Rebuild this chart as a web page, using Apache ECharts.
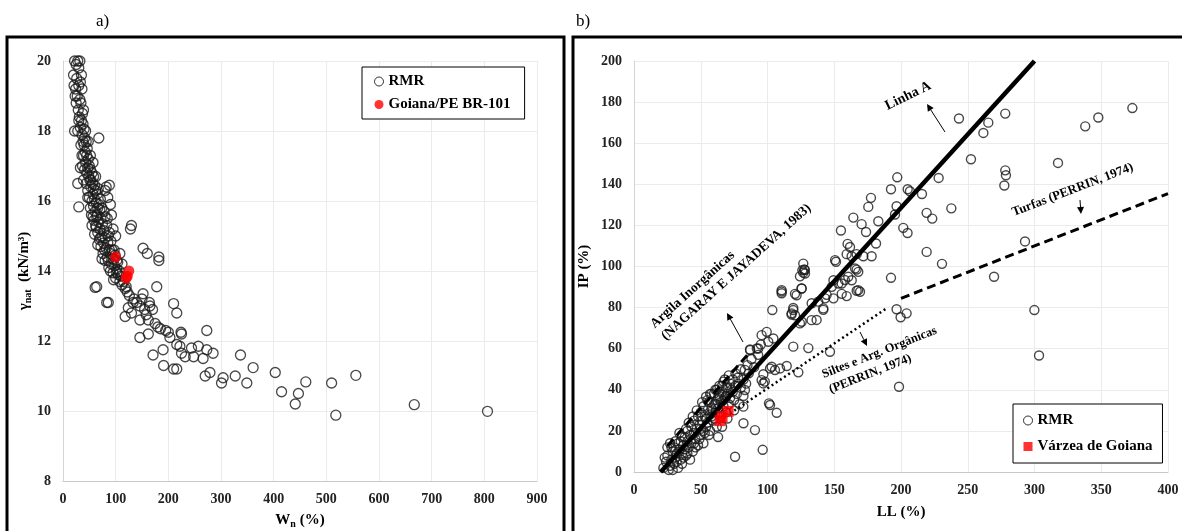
<!DOCTYPE html>
<html>
<head>
<meta charset="utf-8">
<script src="https://cdn.jsdelivr.net/npm/echarts@6/dist/echarts.min.js"></script>
<style>
  html, body { margin: 0; padding: 0; background: #fff; }
  #chart { width: 1182px; height: 531px; }
</style>
</head>
<body>
<div id="chart"></div>
<script>
// a) peso especifico natural x umidade natural
var rmrA = [
  [22,20],[28,20],[32,20],[25,19.9],[30,19.8],[20,19.6],[26,19.5],[33,19.4],[21,19.3],[24,19.2],
  [30,19.3],[36,19.2],[27,19.0],[32,18.9],[25,18.8],[34,18.8],[29,18.6],[37,18.5],[31,18.4],[35,18.3],
  [38,18.2],[33,18.1],[22,18.0],[28,18.0],[40,18.05],[36,17.9],[41,17.8],[38,17.7],[44,17.7],[40,17.6],
  [46,17.5],[42,17.4],[39,17.3],[45,17.3],[48,17.2],[43,17.1],[50,17.0],[37,17.0],[47,16.95],[52,16.9],
  [33,16.95],[45,16.8],[55,16.8],[49,16.7],[58,16.7],[51,16.6],[44,16.5],[56,16.5],[28,16.5],[60,16.45],
  [53,16.4],[47,16.3],[62,16.3],[57,16.2],[65,16.2],[50,16.1],[60,16.05],[55,16.0],[63,15.95],[68,15.9],
  [58,15.85],[30,15.83],[66,15.8],[61,15.7],[70,15.75],[54,15.6],[64,15.55],[72,15.5],[59,15.45],[68,15.4],
  [75,15.35],[62,15.3],[55,15.3],[70,15.2],[78,15.15],[66,15.1],[60,15.05],[74,15.0],[80,14.95],[69,14.9],
  [77,14.8],[85,14.8],[72,14.7],[82,14.65],[88,14.6],[76,14.5],[90,14.5],[84,14.4],[95,14.35],[80,14.3],
  [92,14.2],[98,14.15],[87,14.1],[102,14.05],[95,13.95],[105,13.9],[110,13.85],[100,13.8],[115,13.7],
  [82,16.4],[88,16.45],[80,16.3],[85,16.1],[90,15.9],[78,15.7],[92,15.6],[84,15.5],[95,15.2],[100,15.0],
  [86,15.0],[97,14.6],[108,14.5],[102,14.3],[112,14.2],[107,14.0],
  [35,19.6],[23,19.0],[39,18.6],[30,18.3],[43,18.0],[34,17.6],[48,17.7],[36,17.3],[52,17.3],[41,16.9],
  [57,17.1],[39,16.6],[53,16.6],[62,16.7],[47,16.1],[58,16.35],[67,16.35],[52,15.8],[71,16.05],[57,15.55],
  [74,15.8],[65,15.6],[80,15.55],[63,15.25],[83,15.3],[71,14.95],[88,15.1],[66,14.75],[91,14.85],[79,14.6],
  [93,14.6],[74,14.35],[99,14.45],[86,14.3],[104,14.25],[90,14.0],[96,13.75],[108,13.7],[112,13.6],[120,13.55],
  [68,17.8],[61,13.53],[83,13.1],[130,15.3],[128,15.2],[152,14.65],[160,14.5],[182,14.4],[182,14.3],
  [64,13.55],[86,13.1],[102,13.95],[118,13.5],[122,13.4],[126,13.3],[118,12.7],[130,12.8],[124,12.95],
  [135,13.2],[140,13.1],[146,13.0],[150,13.2],[146,12.6],[155,12.9],[158,12.75],[162,12.6],[146,12.1],
  [162,12.2],[170,12.9],[165,13.0],[178,13.55],[171,11.6],[175,12.5],[180,12.4],[185,12.35],[190,11.75],
  [191,11.3],[195,12.3],[200,12.25],[203,12.1],[210,13.07],[216,12.8],[225,12.2],[224,12.25],[216,11.9],
  [222,11.85],[225,11.65],[232,11.55],[210,11.2],[216,11.2],[244,11.8],[257,11.85],[248,11.55],[266,11.5],
  [273,12.3],[273,11.75],[285,11.65],[270,11.0],[279,11.1],[301,10.8],[304,10.95],[327,11.0],[337,11.6],
  [349,10.8],[361,11.24],[403,11.1],[415,10.55],[441,10.2],[447,10.5],[461,10.83],[510,10.8],[518,9.88],
  [556,11.02],[667,10.18],[806,9.99],[133,13.1],[152,13.35],[164,13.1]
];
var goianaA = [[100,14.4],[125,14.0],[122,13.85],[120,13.8]];

// b) carta de plasticidade
var rmrB = [
  [22,2],[24,5],[25,8],[26,1],[27,3],[28,6],[29,10],[30,4],[30,12],[31,7],[32,9],[33,14],[33,2],[34,11],
  [35,6],[35,15],[36,9],[37,13],[38,17],[38,11],[39,8],[40,15],[40,20],[41,12],[42,18],[43,22],[43,14],
  [44,10],[45,19],[45,25],[46,16],[47,21],[48,27],[48,13],[49,23],[50,18],[50,29],[51,25],[52,20],[52,32],
  [53,27],[54,22],[54,36.6],[55,30],[55,24],[56,34],[56,18],[57,28],[58,31],[58,38],[59,25],[60,33],
  [60,38.2],[61,29],[61,40],[62,35],[62,22],[63,31],[64,37],[64,42],[65,27],[65,34],[66,39],[67,32],
  [67,44],[68,36],[69,41],[69,29],[70,38],[71,33],[72,43],[72,36],[73,40],[74,45],[75,35],[76,42],
  [77,38],[78,46],[80,41],[80,50],[82,45],[83,49.7],[84,43],[85,52],[86,48],[87,59.3],[88,55],[90,51],
  [92,60.1],[93,57],[95,62],[27,14],[25,12],[34,19],[36,4],[42,6],[46,12],[52,14],[57,20],[63,17],
  [66,22],[70,26],[75,30],[79,33],[82,37],
  [23,7],[28,12],[31,15],[36,17],[39,21],[41,24],[44,27],[47,30],[49,16],[51,34],[53,19],[55,35],
  [57,38],[59,30],[60,26],[62,40],[63,36],[66,42],[68,45],[70,41],[71,47],[74,39],[76,48],[78,43],
  [29,1],[32,5],[37,7],[40,9],[45,14],[50,21],[54,26],[58,27],[61,33],[64,29],[67,35],[69,37],
  [75.7,7.4],[96.4,10.8],[90.6,20.4],[82,23.7],[106.9,28.8],[101.1,33.4],[101.9,32.6],[81.9,31.8],
  [83.1,39.9],[96.9,43.1],[95.6,44.7],[98,44],[96.9,47.6],[101.9,50.4],[109.4,50.4],[114.4,51.6],
  [123.1,48.5],[105.6,49.6],[103.1,51.2],[119.3,61],[130.6,60.3],[146.8,58.5],[104.4,65],[100.6,63.4],
  [95.6,66.6],[93.1,60.1],[86.9,59.6],[99.4,68.2],[110.6,87],[110.6,88.5],[110.6,87.8],[103.6,78.8],
  [119.3,78.8],[118.1,77.2],[120.6,76.3],[125.6,73.1],[128.1,96.6],[126.1,98.2],[126.8,101.4],[121.8,86],
  [125.6,89.3],[141.8,79.6],[136.8,74],[133.1,82.1],[138,82.9],[144.3,86.2],[149.4,93.3],[155.6,91.7],
  [163.1,93.3],[168,88.5],[168,97.4],[133,73.9],[124.3,72.3],
  [128,98.3],[126.8,97],[124.3,95.2],[125.5,89.3],[120.6,86.7],[119.3,79.8],[118,76.6],[141.8,78.9],
  [143.1,84.5],[149.4,84.5],[155.6,86.7],[159.3,85.6],[166.8,88.2],[160.5,95],[158,93.4],[166.8,98.5],
  [165.6,99],[150.6,103.1],[151.3,102.3],[159.3,106],[163,105],[166.8,106],[171.8,105],[178,105],
  [160,111],[161.8,109.5],[181.3,111.2],[155,117.5],[164.3,123.8],[170.5,120.6],[173.8,116.8],
  [183,122],[177.5,133.4],[175.5,129],[197.2,143.4],[192.5,137.6],[205,137.6],[206.7,136.6],
  [196.7,129.3],[195.5,125.3],[201.7,118.8],[204.9,116.3],[219.2,126.1],[223.4,123.3],[215.7,135.3],
  [228.2,143.1],[237.7,128.3],[243.4,172],[261.7,165],[265.4,170],[278.1,174.4],[252.4,152.2],
  [317.6,150.4],[278.1,146.8],[278.6,144.4],[277.4,139.4],[219.2,107.1],[230.7,101.3],[292.9,112.2],
  [269.7,95],[299.9,78.8],[192.5,94.5],[196.7,79.2],[199.7,75.3],[204.2,77.2],[303.4,56.7],[198.5,41.5],
  [373.3,177.1],[347.8,172.5],[338,168.2],[127.5,98.6],[148.1,90.1],[153.1,91.7],[169.3,87.7]
];
var varzeaB = [[64.5,25],[70.5,29.5],[66,27]];

// linhas de referencia
var linhaA = [[20,0],[300,200]];
var linhaNagaraj = [[25,12.6],[85,57]];
var linhaSiltes = [[72,28.5],[190,80]];
var linhaTurfas = [[200,84.5],[400,135.5]];

var serif = "'Liberation Serif', 'DejaVu Serif', serif";
var myChart = echarts.init(document.getElementById('chart'));

var nameStyle = {
    fontFamily: serif, fontWeight: 'bold', fontSize: 15, color: '#000',
    rich: {
        b: {fontFamily: serif, fontWeight: 'bold', fontSize: 15, color: '#000'},
        sub: {fontFamily: serif, fontWeight: 'bold', fontSize: 10, color: '#000', padding: [8, 0, 0, 0]}
    }
};

function axisX(idx, max, interval, name, gap) {
    return {
        gridIndex: idx, type: 'value', min: 0, max: max, interval: interval,
        name: name, nameLocation: 'middle', nameGap: gap, nameTextStyle: nameStyle,
        axisLine: {show: true, lineStyle: {color: '#c8c8c8', width: 1}},
        axisTick: {show: false},
        axisLabel: {fontFamily: serif, fontWeight: 'bold', fontSize: 14, color: '#222', margin: 11},
        splitLine: {show: true, lineStyle: {color: '#ebebeb', width: 1}}
    };
}
function axisY(idx, min, max, interval, name, gap) {
    return {
        gridIndex: idx, type: 'value', min: min, max: max, interval: interval,
        name: name, nameLocation: 'middle', nameGap: gap, nameTextStyle: nameStyle,
        axisLine: {show: true, lineStyle: {color: '#d4d4d4', width: 1}},
        axisTick: {show: false},
        axisLabel: {fontFamily: serif, fontWeight: 'bold', fontSize: 14, color: '#222', margin: 12},
        splitLine: {show: true, lineStyle: {color: '#ebebeb', width: 1}}
    };
}

var legendText = {fontFamily: serif, fontWeight: 'bold', fontSize: 15, color: '#000'};
var openCircle = {color: '#fff', borderColor: '#000', borderWidth: 1};

var option = {
    animation: false,
    backgroundColor: '#fff',
    grid: [
        {left: 63, top: 61, width: 474, height: 420, containLabel: false, outerBoundsMode: 'none'},
        {left: 634, top: 61, width: 534, height: 411, containLabel: false, outerBoundsMode: 'none'}
    ],
    xAxis: [
        axisX(0, 900, 100, '{b|W}{sub|n}{b| (%)}', 30),
        axisX(1, 400, 50, 'LL (%)', 33)
    ],
    yAxis: [
        axisY(0, 8, 20, 2, '{b|γ}{sub|nat}{b|  (kN/m³)}', 30),
        axisY(1, 0, 200, 20, 'IP (%)', 42)
    ],
    legend: [
        {
            left: 362, top: 67, orient: 'vertical', backgroundColor: '#fff',
            borderColor: '#000', borderWidth: 1, padding: [7, 14, 7, 12], itemGap: 8,
            itemWidth: 9, itemHeight: 9, textStyle: legendText,
            data: [{name: 'RMR', icon: 'circle', itemStyle: openCircle}, {name: 'Goiana/PE BR-101', icon: 'circle'}]
        },
        {
            left: 1013, top: 404, orient: 'vertical', backgroundColor: '#fff',
            borderColor: '#000', borderWidth: 1, padding: [9, 10, 9, 10], itemGap: 11,
            itemWidth: 9, itemHeight: 9, textStyle: legendText,
            data: [{name: 'RMR', icon: 'circle', itemStyle: openCircle}, {name: 'Várzea de Goiana', icon: 'rect'}]
        }
    ],
    series: [
        {
            name: 'RMR', type: 'scatter', xAxisIndex: 0, yAxisIndex: 0, data: rmrA,
            symbol: 'circle', symbolSize: 10,
            itemStyle: {color: 'rgba(255,255,255,0)', borderColor: '#1a1a1a', borderWidth: 1.3}
        },
        {
            name: 'Goiana/PE BR-101', type: 'scatter', xAxisIndex: 0, yAxisIndex: 0, data: goianaA,
            symbol: 'circle', symbolSize: 11, z: 5,
            itemStyle: {color: '#ff0000'}
        },
        {
            name: 'RMR', type: 'scatter', xAxisIndex: 1, yAxisIndex: 1, data: rmrB,
            symbol: 'circle', symbolSize: 9,
            itemStyle: {color: 'rgba(255,255,255,0)', borderColor: '#1a1a1a', borderWidth: 1.4}
        },
        {
            name: 'Linha A', type: 'line', xAxisIndex: 1, yAxisIndex: 1, data: linhaA,
            symbol: 'none', z: 3, lineStyle: {color: '#000', width: 4.5}
        },
        {
            name: 'Nagaraj', type: 'line', xAxisIndex: 1, yAxisIndex: 1, data: linhaNagaraj,
            symbol: 'none', z: 3, lineStyle: {color: '#000', width: 3, type: [9, 5]}
        },
        {
            name: 'Siltes', type: 'line', xAxisIndex: 1, yAxisIndex: 1, data: linhaSiltes,
            symbol: 'none', z: 3, lineStyle: {color: '#000', width: 2.5, type: [2, 3]}
        },
        {
            name: 'Turfas', type: 'line', xAxisIndex: 1, yAxisIndex: 1, data: linhaTurfas,
            symbol: 'none', z: 3, lineStyle: {color: '#000', width: 3, type: [9, 5]}
        },
        {
            name: 'Várzea de Goiana', type: 'scatter', xAxisIndex: 1, yAxisIndex: 1, data: varzeaB,
            symbol: 'rect', symbolSize: 11, z: 6,
            itemStyle: {color: '#ff0000'}
        }
    ]
};
myChart.setOption(option);

// anotacoes e molduras
function deg(a) { return a * Math.PI / 180; }
function txt(x, y, s, rot, size) {
    return {
        type: 'text', x: x, y: y, rotation: deg(rot), z: 100,
        style: {text: s, fill: '#000', font: 'bold ' + (size || 13) + 'px ' + serif, textAlign: 'left', textVerticalAlign: 'bottom'}
    };
}
function arrow(x1, y1, x2, y2) {
    var ang = Math.atan2(y2 - y1, x2 - x1), L = 7, W = 3.5;
    var bx = x2 - L * Math.cos(ang), by = y2 - L * Math.sin(ang);
    return [
        {type: 'line', z: 100, shape: {x1: x1, y1: y1, x2: bx, y2: by}, style: {stroke: '#000', lineWidth: 1}},
        {type: 'polygon', z: 100, shape: {points: [[x2, y2],
            [bx + W * Math.sin(ang), by - W * Math.cos(ang)],
            [bx - W * Math.sin(ang), by + W * Math.cos(ang)]]}, style: {fill: '#000'}}
    ];
}

var gfx = [
    {type: 'rect', z: 100, shape: {x: 7, y: 37, width: 557, height: 510}, style: {fill: null, stroke: '#000', lineWidth: 3}},
    {type: 'rect', z: 100, shape: {x: 573, y: 37, width: 620, height: 510}, style: {fill: null, stroke: '#000', lineWidth: 3}},
    {type: 'text', x: 96, y: 13, style: {text: 'a)', fill: '#000', font: '17px ' + serif}},
    {type: 'text', x: 576, y: 13, style: {text: 'b)', fill: '#000', font: '17px ' + serif}},
    txt(889, 113, 'Linha A', 26, 14),
    txt(657, 331, 'Argila Inorgânicas', 42, 13.5),
    txt(668, 343, '(NAGARAY E JAYADEVA, 1983)', 42, 13.5),
    txt(825, 381, 'Siltes e Arg. Orgânicas', 21.5, 12.5),
    txt(832, 396, '(PERRIN, 1974)', 21.5, 12.5),
    txt(1015, 219, 'Turfas (PERRIN, 1974)', 21, 12.8)
];
gfx = gfx.concat(arrow(945, 132, 927, 104))
         .concat(arrow(743, 342, 727, 313))
         .concat(arrow(860, 332, 867, 346))
         .concat(arrow(1080, 200, 1081, 214));
myChart.setOption({graphic: gfx});
</script>
</body>
</html>
